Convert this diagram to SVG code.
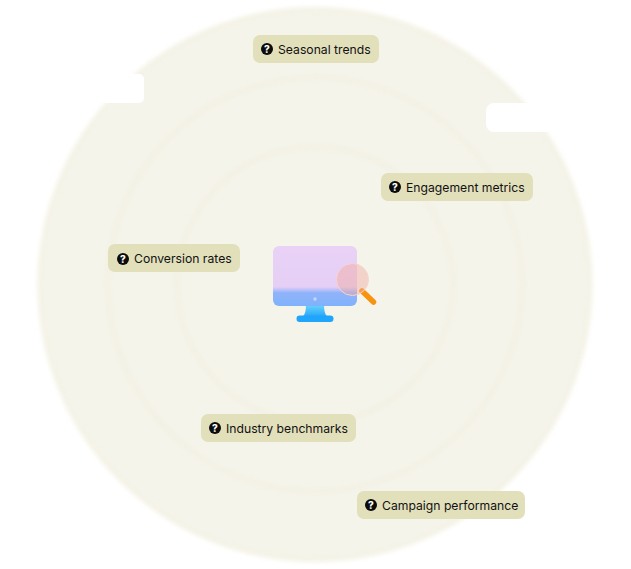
<svg xmlns="http://www.w3.org/2000/svg" width="631" height="569" viewBox="0 0 631 569">
<style>
.pill{fill:#e2dfbb}
.lbl{font-family:Inter,"Liberation Sans",sans-serif;font-size:12.200px;fill:#111}
.qm{font-family:Inter,"Liberation Sans",sans-serif;font-size:10px;font-weight:800;fill:#fff;text-anchor:middle}
.ring{fill:none;stroke:#f0edda;stroke-width:4;opacity:.6;filter:url(#b)}
</style>
<defs>
<filter id="b" x="-10%" y="-10%" width="120%" height="120%"><feGaussianBlur stdDeviation="2.500"/></filter>
<linearGradient id="scr" x1="0" y1="0" x2="0" y2="1"><stop offset="0" stop-color="#e9d2f6"/><stop offset=".68" stop-color="#e6cff5"/><stop offset=".78" stop-color="#90b3fa"/><stop offset="1" stop-color="#7fb2fb"/></linearGradient>
<linearGradient id="st" x1="0" y1="0" x2="0" y2="1"><stop offset="0" stop-color="#6fd8fb"/><stop offset="1" stop-color="#2aa8fb"/></linearGradient>
<symbol id="q" viewBox="0 0 12 12" overflow="visible"><circle cx="6" cy="6" r="6" fill="#0c0c0c"/><text x="6" y="9.600" class="qm">?</text></symbol>
</defs>
<rect width="631" height="569" fill="#fff"/>
<g id="rings">
<circle cx="315" cy="284.500" r="276" fill="#f5f4eb" filter="url(#b)"/>
<circle class="ring" cx="315" cy="284.500" r="275"/>
<circle class="ring" cx="315" cy="284.500" r="207"/>
<circle class="ring" cx="315" cy="284.500" r="138"/>
</g>
<g id="cutouts" fill="#fff">
<rect x="60" y="74" width="84" height="29" rx="5"/>
<rect x="486" y="103" width="100" height="29" rx="8"/>
</g>
<g id="connectors"/>
<g id="monitor">
<path d="M306 304h18q0 10 3 12h-24q3-2 3-12z" fill="url(#st)"/>
<rect x="296.500" y="315.500" width="37" height="6.500" rx="3.250" fill="#1fa5fb"/>
<rect x="273" y="246" width="84" height="60" rx="6" fill="url(#scr)"/>
<circle cx="315" cy="299" r="1.700" fill="#c9d6fb"/>
<path d="M362 291l11.500 11" stroke="#f8930f" stroke-width="5.500" stroke-linecap="round" fill="none"/>
<circle cx="352.500" cy="279.500" r="16" fill="#f2a8a0" fill-opacity=".45" stroke="#f7d5cd" stroke-width="1"/>
</g>
<g id="n-seasonal"><rect class="pill" x="253" y="35" width="126" height="28" rx="7"/><use href="#q" x="261" y="43" width="12" height="12"/><text class="lbl" x="278" y="53.500">Seasonal trends</text></g>
<g id="n-engagement"><rect class="pill" x="381" y="173" width="152" height="28" rx="7"/><use href="#q" x="389" y="181" width="12" height="12"/><text class="lbl" x="406" y="191.500">Engagement metrics</text></g>
<g id="n-conversion"><rect class="pill" x="108" y="244" width="132" height="28" rx="7"/><use href="#q" x="117" y="253" width="12" height="12"/><text class="lbl" x="134" y="263">Conversion rates</text></g>
<g id="n-industry"><rect class="pill" x="201" y="414" width="155" height="28" rx="7"/><use href="#q" x="209" y="422" width="12" height="12"/><text class="lbl" x="226" y="432.500">Industry benchmarks</text></g>
<g id="n-campaign"><rect class="pill" x="357" y="491" width="168" height="28" rx="7"/><use href="#q" x="365" y="499" width="12" height="12"/><text class="lbl" x="382" y="509.500">Campaign performance</text></g>
</svg>
